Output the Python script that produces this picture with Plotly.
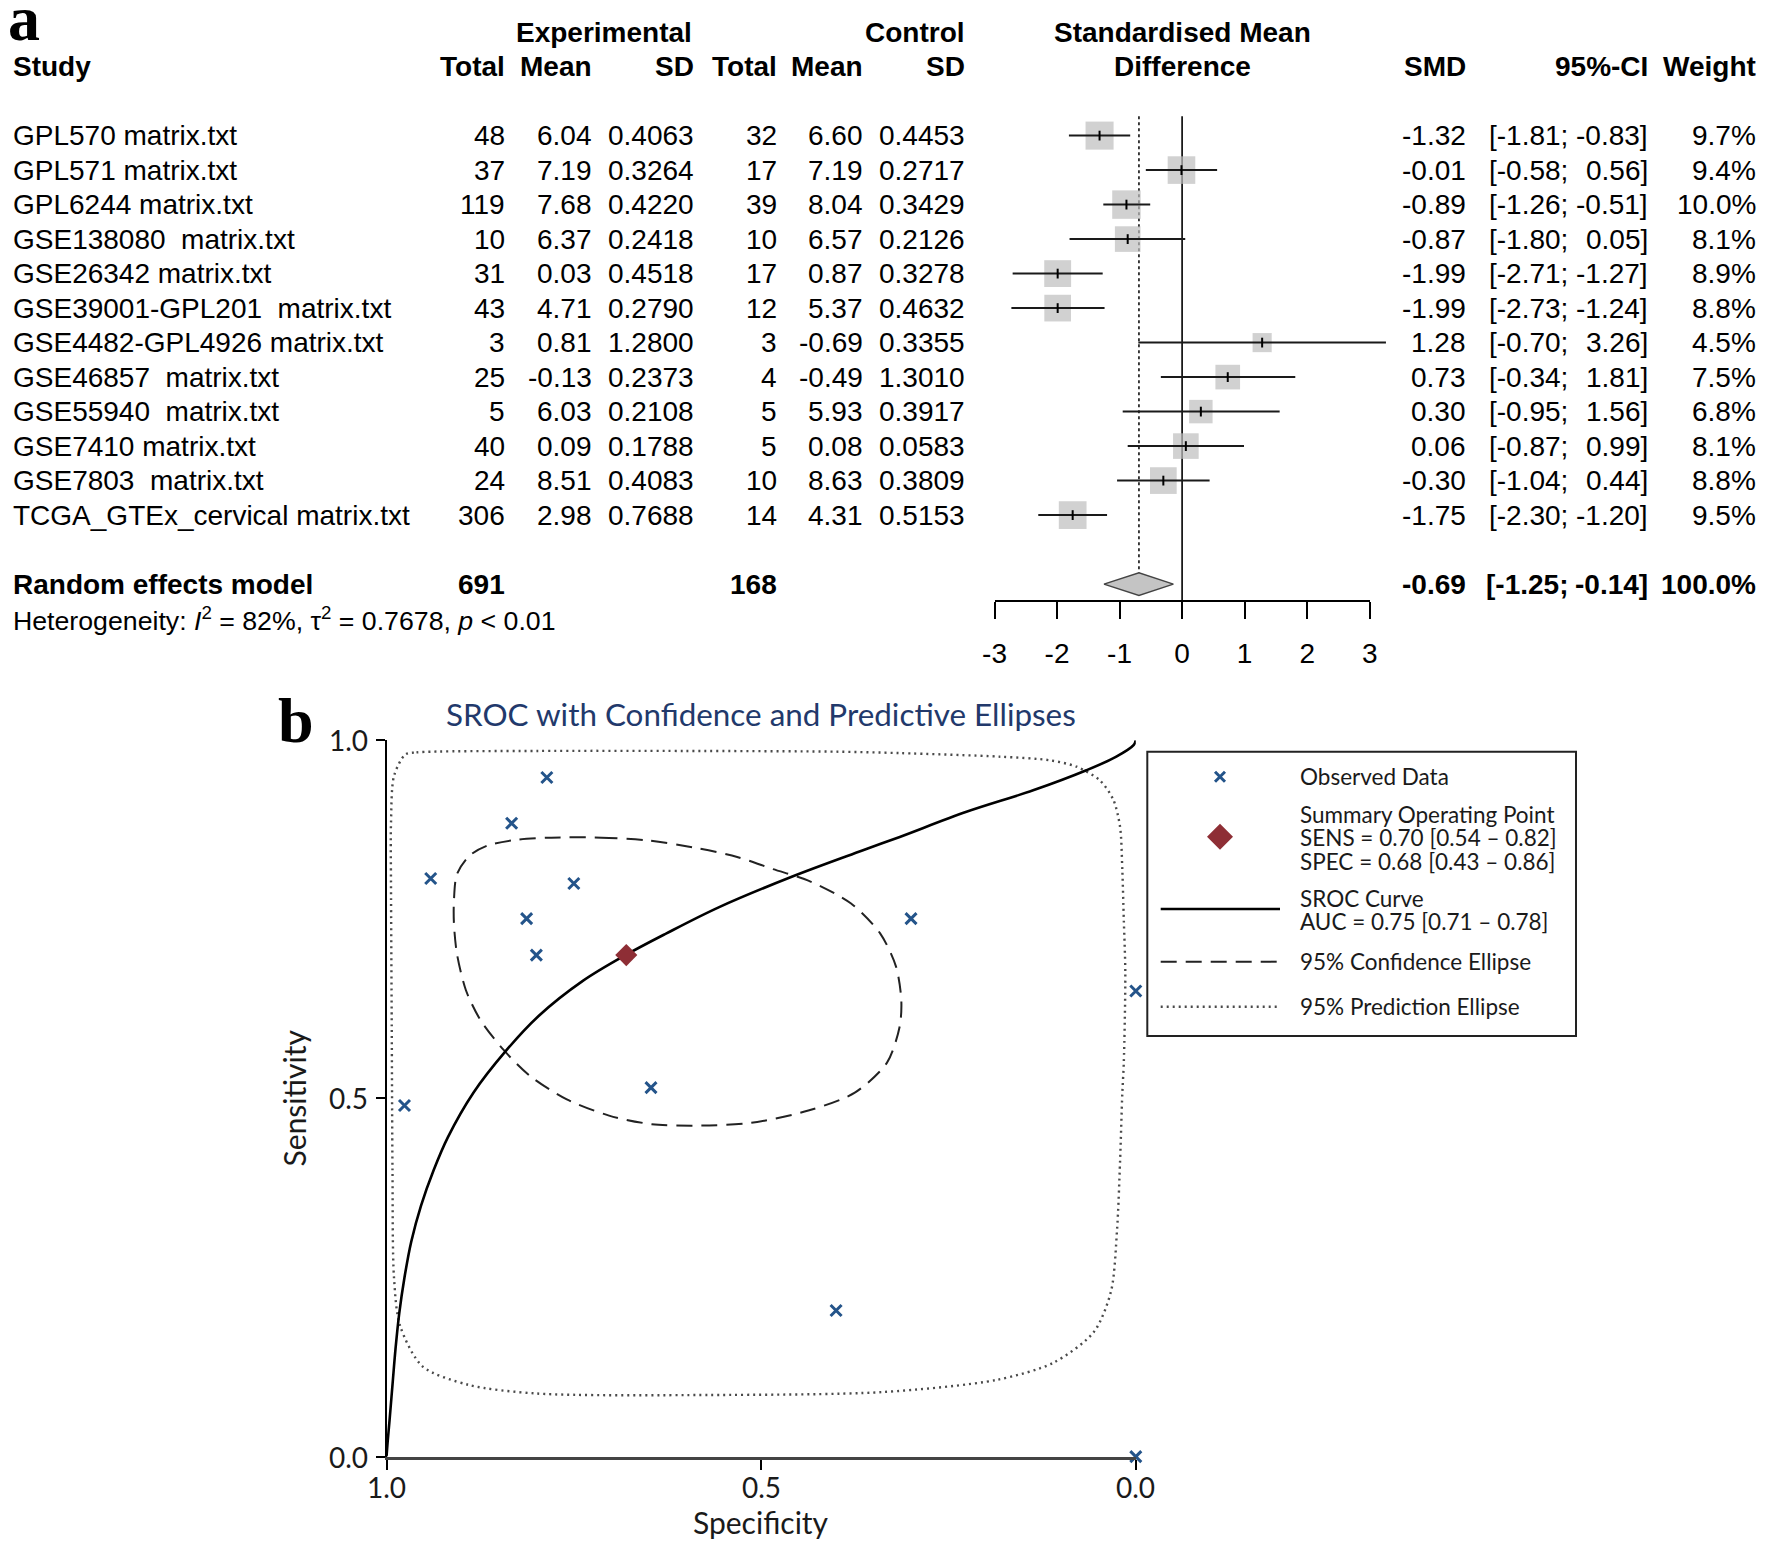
import math
import plotly.graph_objects as go

W, H = 1772, 1550

# ---------------- Panel a data (forest plot) ----------------
studies = ["GPL570 matrix.txt", "GPL571 matrix.txt", "GPL6244 matrix.txt",
           "GSE138080  matrix.txt", "GSE26342 matrix.txt", "GSE39001-GPL201  matrix.txt",
           "GSE4482-GPL4926 matrix.txt", "GSE46857  matrix.txt", "GSE55940  matrix.txt",
           "GSE7410 matrix.txt", "GSE7803  matrix.txt", "TCGA_GTEx_cervical matrix.txt"]
exp_total = [48, 37, 119, 10, 31, 43, 3, 25, 5, 40, 24, 306]
exp_mean = [6.04, 7.19, 7.68, 6.37, 0.03, 4.71, 0.81, -0.13, 6.03, 0.09, 8.51, 2.98]
exp_sd = [0.4063, 0.3264, 0.4220, 0.2418, 0.4518, 0.2790, 1.2800, 0.2373, 0.2108, 0.1788, 0.4083, 0.7688]
ctl_total = [32, 17, 39, 10, 17, 12, 3, 4, 5, 5, 10, 14]
ctl_mean = [6.60, 7.19, 8.04, 6.57, 0.87, 5.37, -0.69, -0.49, 5.93, 0.08, 8.63, 4.31]
ctl_sd = [0.4453, 0.2717, 0.3429, 0.2126, 0.3278, 0.4632, 0.3355, 1.3010, 0.3917, 0.0583, 0.3809, 0.5153]
smd = [-1.32, -0.01, -0.89, -0.87, -1.99, -1.99, 1.28, 0.73, 0.30, 0.06, -0.30, -1.75]
ci_lo = [-1.81, -0.58, -1.26, -1.80, -2.71, -2.73, -0.70, -0.34, -0.95, -0.87, -1.04, -2.30]
ci_hi = [-0.83, 0.56, -0.51, 0.05, -1.27, -1.24, 3.26, 1.81, 1.56, 0.99, 0.44, -1.20]
weight = [9.7, 9.4, 10.0, 8.1, 8.9, 8.8, 4.5, 7.5, 6.8, 8.1, 8.8, 9.5]

pooled_total_e = 691
pooled_total_c = 168
pooled_smd = -0.69
pooled_lo = -1.25
pooled_hi = -0.14
pooled_weight = 100.0
het_i2 = 82
het_tau2 = 0.7678
het_p = "0.01"
forest_ticks = [-3, -2, -1, 0, 1, 2, 3]

# ---------------- Panel b data (SROC) ----------------
obs_spec = [0.786, 0.833, 0.941, 0.750, 0.813, 0.800, 0.300, 0.000, 0.647, 0.976, 0.400, 0.000]
obs_sens = [0.948, 0.884, 0.807, 0.800, 0.751, 0.700, 0.751, 0.650, 0.515, 0.490, 0.204, 0.000]
summary_sens, summary_sens_ci = 0.70, (0.54, 0.82)
summary_spec, summary_spec_ci = 0.68, (0.43, 0.86)
auc, auc_ci = 0.75, (0.71, 0.78)
curve_spec = [1.000, 0.9985, 0.996, 0.992, 0.988, 0.983, 0.976, 0.967, 0.954, 0.937, 0.918,
              0.884, 0.841, 0.797, 0.738, 0.681, 0.627, 0.556, 0.460, 0.365, 0.315, 0.226,
              0.137, 0.066, 0.026, 0.003, 0.000]
curve_sens = [0.000, 0.020, 0.050, 0.100, 0.150, 0.200, 0.250, 0.300, 0.350, 0.400, 0.446,
              0.508, 0.566, 0.615, 0.664, 0.700, 0.730, 0.767, 0.809, 0.846, 0.865, 0.900,
              0.930, 0.958, 0.977, 0.993, 1.000]
conf_spec = [0.780, 0.713, 0.651, 0.589, 0.532, 0.484, 0.437, 0.380, 0.341, 0.320, 0.313, 0.315,
             0.332, 0.375, 0.437, 0.513, 0.580, 0.646, 0.703, 0.760, 0.808, 0.844, 0.875, 0.894,
             0.906, 0.910, 0.910, 0.906, 0.889, 0.865, 0.827, 0.780]
conf_sens = [0.864, 0.864, 0.860, 0.850, 0.837, 0.820, 0.804, 0.772, 0.730, 0.684, 0.638, 0.601,
             0.550, 0.508, 0.483, 0.466, 0.462, 0.464, 0.476, 0.499, 0.531, 0.568, 0.610, 0.651,
             0.702, 0.744, 0.776, 0.813, 0.839, 0.853, 0.861, 0.864]
pred_spec = [0.975, 0.960, 0.800, 0.600, 0.400, 0.315, 0.181, 0.115, 0.079, 0.048, 0.030, 0.021,
             0.018, 0.016, 0.014, 0.016, 0.018, 0.021, 0.025, 0.033, 0.056, 0.110, 0.186, 0.339,
             0.569, 0.799, 0.890, 0.952, 0.982, 0.990, 0.992, 0.993, 0.994, 0.994, 0.990, 0.975]
pred_sens = [0.980, 0.983, 0.985, 0.985, 0.984, 0.982, 0.977, 0.972, 0.963, 0.944, 0.917, 0.879,
             0.819, 0.749, 0.675, 0.550, 0.507, 0.412, 0.317, 0.231, 0.174, 0.131, 0.107, 0.090,
             0.086, 0.088, 0.100, 0.126, 0.183, 0.250, 0.400, 0.600, 0.800, 0.884, 0.950, 0.980]
sroc_ticks = [0.0, 0.5, 1.0]

# ---------------- layout constants (pixels) ----------------
ARIAL = "Liberation Sans, Arial, sans-serif"
MYR = "Lato, Open Sans, sans-serif"
SERIF = "Liberation Serif, Times New Roman, serif"
ROW0, ROWH = 101.1, 34.5          # pixel y of row 0, pixel per row
XZ, XU = 1182.1, 62.53            # pixel x of SMD 0, pixel per SMD unit
AX_Y = 601.0                      # forest axis line
BX0, BX1 = 386.5, 1135.8          # SROC spec 1 / spec 0
BY1, BY0 = 740.2, 1456.6          # SROC sens 1 / sens 0
LG = (1147.3, 1576.0, 751.7, 1036.0)
APAD = 3.0                        # annotation inner padding compensation

def fx(p):
    return p / W

def fy(p):
    return 1 - p / H

fig = go.Figure()
annotations = []
shapes = []

def txt(text, xpx, row, anchor="right", bold=False, size=28):
    if bold:
        text = "<b>" + text + "</b>"
    if anchor == "right":
        xpx += APAD
    elif anchor == "left":
        xpx -= APAD
    annotations.append(dict(text=text, x=fx(xpx), xref="paper", y=row, yref="y",
                            xanchor=anchor, yanchor="middle", showarrow=False,
                            font=dict(family=ARIAL, size=size, color="black")))

rows = list(range(1, len(studies) + 1))
RE_ROW = len(studies) + 2
HET_ROW = RE_ROW + 1

# headers
txt("Experimental", 603.5, -2, anchor="center", bold=True)
txt("Control", 964, -2, bold=True)
txt("Standardised Mean", XZ, -2, anchor="center", bold=True)
txt("Difference", XZ, -1, anchor="center", bold=True)
txt("Study", 13.6, -1, anchor="left", bold=True)
COLS = [504, 591, 693, 776, 862, 964]
for head, xp in zip(["Total", "Mean", "SD", "Total", "Mean", "SD"], COLS):
    txt(head, xp, -1, bold=True)
txt("SMD", 1464.6, -1, bold=True)
txt("95%-CI", 1646.6, -1, bold=True)
txt("Weight", 1755, -1, bold=True)

for i, r in enumerate(rows):
    txt(studies[i].replace("  ", "\u00a0\u00a0"), 13.6, r, anchor="left")
    txt(str(exp_total[i]), COLS[0], r)
    txt(f"{exp_mean[i]:.2f}", COLS[1], r)
    txt(f"{exp_sd[i]:.4f}", COLS[2], r)
    txt(str(ctl_total[i]), COLS[3], r)
    txt(f"{ctl_mean[i]:.2f}", COLS[4], r)
    txt(f"{ctl_sd[i]:.4f}", COLS[5], r)
    txt(f"{smd[i]:.2f}", 1464.6, r)
    txt(f"[{ci_lo[i]:.2f};", 1567, r)
    txt(f"{ci_hi[i]:.2f}]", 1646.6, r)
    txt(f"{weight[i]:.1f}%", 1755, r)

txt("Random effects model", 13.6, RE_ROW, anchor="left", bold=True)
txt(str(pooled_total_e), COLS[0], RE_ROW, bold=True)
txt(str(pooled_total_c), COLS[3], RE_ROW, bold=True)
txt(f"{pooled_smd:.2f}", 1464.6, RE_ROW, bold=True)
txt(f"[{pooled_lo:.2f};", 1567, RE_ROW, bold=True)
txt(f"{pooled_hi:.2f}]", 1646.6, RE_ROW, bold=True)
txt(f"{pooled_weight:.1f}%", 1755, RE_ROW, bold=True)
txt(f"Heterogeneity: <i>I</i><sup>2</sup> = {het_i2}%, \u03c4<sup>2</sup> = {het_tau2:.4f}, <i>p</i> &lt; {het_p}",
    13.6, HET_ROW, anchor="left", size=26.7)

# forest marks
fig.add_trace(go.Scatter(
    x=smd, y=rows, mode="markers", xaxis="x", yaxis="y", hoverinfo="skip",
    marker=dict(symbol="square", size=[9.0 * math.sqrt(w) for w in weight],
                color="#BEBEBE", line=dict(width=0)), showlegend=False))
ci_x, ci_y = [], []
for lo, hi, r in zip(ci_lo, ci_hi, rows):
    ci_x += [lo, hi, None]
    ci_y += [r, r, None]
fig.add_trace(go.Scatter(x=ci_x, y=ci_y, mode="lines", xaxis="x", yaxis="y",
                         line=dict(color="#1a1a1a", width=2), hoverinfo="skip", showlegend=False))
fig.add_trace(go.Scatter(x=smd, y=rows, mode="markers", xaxis="x", yaxis="y",
                         marker=dict(symbol="line-ns", size=7, line=dict(width=2, color="black")),
                         hoverinfo="skip", showlegend=False))
DH = 0.33
fig.add_trace(go.Scatter(
    x=[pooled_lo, pooled_smd, pooled_hi, pooled_smd, pooled_lo],
    y=[RE_ROW, RE_ROW - DH, RE_ROW, RE_ROW + DH, RE_ROW],
    mode="lines", fill="toself", fillcolor="#C4C4C4", xaxis="x", yaxis="y",
    line=dict(color="#444444", width=1.5), hoverinfo="skip", showlegend=False))
TOP = 0.44
shapes.append(dict(type="line", xref="x", yref="y", x0=0, x1=0, y0=TOP, y1=RE_ROW + 0.5,
                   line=dict(color="black", width=1.6), layer="below"))
shapes.append(dict(type="line", xref="x", yref="y", x0=pooled_smd, x1=pooled_smd,
                   y0=TOP, y1=RE_ROW - DH, line=dict(color="black", width=1.5, dash="dot"),
                   layer="below"))
# invisible trace to carry the forest axis
fig.add_trace(go.Scatter(x=[forest_ticks[0], forest_ticks[-1]], y=[RE_ROW, RE_ROW],
                         xaxis="x3", yaxis="y", mode="markers", marker=dict(opacity=0),
                         hoverinfo="skip", showlegend=False))

# ---------------- Panel b ----------------
BLUE = "#24548A"
RED = "#8E2E35"
PRED_LINE = dict(color="#4a4a4a", width=2.4, dash="2px,4px")
CONF_LINE = dict(color="#222222", width=2, dash="16px,9px")
fig.add_trace(go.Scatter(x=pred_spec, y=pred_sens, mode="lines", xaxis="x2", yaxis="y2",
                         line=dict(**PRED_LINE, shape="spline", smoothing=0.8),
                         hoverinfo="skip", showlegend=False))
fig.add_trace(go.Scatter(x=conf_spec, y=conf_sens, mode="lines", xaxis="x2", yaxis="y2",
                         line=dict(**CONF_LINE, shape="spline", smoothing=0.8),
                         hoverinfo="skip", showlegend=False))
fig.add_trace(go.Scatter(x=curve_spec, y=curve_sens, mode="lines", xaxis="x2", yaxis="y2",
                         line=dict(color="black", width=2.6, shape="spline", smoothing=1.0),
                         hoverinfo="skip", showlegend=False))
fig.add_trace(go.Scatter(x=obs_spec, y=obs_sens, mode="markers", xaxis="x2", yaxis="y2",
                         cliponaxis=False,
                         marker=dict(symbol="x-thin", size=11, line=dict(width=3, color=BLUE)),
                         hoverinfo="skip", showlegend=False))
fig.add_trace(go.Scatter(x=[summary_spec], y=[summary_sens], mode="markers", xaxis="x2", yaxis="y2",
                         marker=dict(symbol="diamond", size=17, color=RED),
                         hoverinfo="skip", showlegend=False))

# tick labels of panel b (placed at the axis tick values)
for t in sroc_ticks:
    annotations.append(dict(text=f"{t:.1f}", x=t, xref="x2", y=fy(BY0 + 30.5), yref="paper",
                            xanchor="center", yanchor="middle", showarrow=False,
                            font=dict(family=MYR, size=28, color="#1a1a1a")))
    annotations.append(dict(text=f"{t:.1f}", x=fx(BX0 - 17), xref="paper", y=t, yref="y2",
                            xanchor="right", yanchor="middle", showarrow=False,
                            font=dict(family=MYR, size=28, color="#1a1a1a")))

# legend (drawn in its own pixel-space axes)
lx0, lx1, ly0, ly1 = LG
fig.add_trace(go.Scatter(x=[1220], y=[776.7], mode="markers", xaxis="x4", yaxis="y4",
                         marker=dict(symbol="x-thin", size=10, line=dict(width=3, color=BLUE)),
                         hoverinfo="skip", showlegend=False))
fig.add_trace(go.Scatter(x=[1220], y=[836.7], mode="markers", xaxis="x4", yaxis="y4",
                         marker=dict(symbol="diamond", size=20, color=RED),
                         hoverinfo="skip", showlegend=False))
fig.add_trace(go.Scatter(x=[1160.7, 1280], y=[909, 909], mode="lines", xaxis="x4", yaxis="y4",
                         line=dict(color="black", width=2.6), hoverinfo="skip", showlegend=False))
fig.add_trace(go.Scatter(x=[1160.7, 1280], y=[961.7, 961.7], mode="lines", xaxis="x4", yaxis="y4",
                         line=CONF_LINE, hoverinfo="skip", showlegend=False))
fig.add_trace(go.Scatter(x=[1160.7, 1280], y=[1006.7, 1006.7], mode="lines", xaxis="x4", yaxis="y4",
                         line=PRED_LINE, hoverinfo="skip", showlegend=False))
shapes.append(dict(type="rect", xref="paper", yref="paper", x0=fx(lx0), x1=fx(lx1),
                   y0=fy(ly1), y1=fy(ly0), line=dict(color="#222222", width=2)))

def ltxt(text, ypx):
    annotations.append(dict(text=text, x=1300 - 2, xref="x4", y=ypx, yref="y4", xanchor="left",
                            yanchor="middle", showarrow=False,
                            font=dict(family=MYR, size=22.5, color="#1a1a1a")))

ltxt("Observed Data", 776.7)
ltxt("Summary Operating Point", 814)
ltxt(f"SENS = {summary_sens:.2f} [{summary_sens_ci[0]:.2f} \u2013 {summary_sens_ci[1]:.2f}]", 837.8)
ltxt(f"SPEC = {summary_spec:.2f} [{summary_spec_ci[0]:.2f} \u2013 {summary_spec_ci[1]:.2f}]", 861.7)
ltxt("SROC Curve", 898.3)
ltxt(f"AUC = {auc:.2f} [{auc_ci[0]:.2f} \u2013 {auc_ci[1]:.2f}]", 921.7)
ltxt("95% Confidence Ellipse", 961.7)
ltxt("95% Prediction Ellipse", 1006.7)

# titles / labels for panel b
annotations.append(dict(text="SROC with Confidence and Predictive Ellipses", x=fx((BX0 + BX1) / 2),
                        xref="paper", y=fy(714), yref="paper", xanchor="center", yanchor="middle",
                        showarrow=False, font=dict(family=MYR, size=31.4, color="#22396B")))
annotations.append(dict(text="Specificity", x=fx((BX0 + BX1) / 2), xref="paper", y=fy(1522),
                        yref="paper", xanchor="center", yanchor="middle", showarrow=False,
                        font=dict(family=MYR, size=30, color="#1a1a1a")))
annotations.append(dict(text="Sensitivity", x=fx(294), xref="paper", y=fy((BY0 + BY1) / 2),
                        yref="paper", xanchor="center", yanchor="middle", showarrow=False,
                        textangle=-90, font=dict(family=MYR, size=30, color="#1a1a1a")))
# panel letters
annotations.append(dict(text="<b>a</b>", x=fx(24), xref="paper", y=fy(19), yref="paper",
                        xanchor="center", yanchor="middle", showarrow=False,
                        font=dict(family=SERIF, size=64, color="black")))
annotations.append(dict(text="<b>b</b>", x=fx(296), xref="paper", y=fy(720), yref="paper",
                        xanchor="center", yanchor="middle", showarrow=False,
                        font=dict(family=SERIF, size=64, color="black")))

fig.update_layout(
    width=W, height=H, autosize=False,
    margin=dict(l=0, r=0, t=0, b=0, pad=0, autoexpand=False),
    paper_bgcolor="white", plot_bgcolor="rgba(0,0,0,0)",
    showlegend=False,
    xaxis=dict(domain=[0, 1], range=[-XZ / XU, (W - XZ) / XU], visible=False, fixedrange=True),
    yaxis=dict(domain=[0, 1], range=[(H - ROW0) / ROWH, -ROW0 / ROWH], visible=False,
               fixedrange=True),
    xaxis3=dict(domain=[fx(XZ + forest_ticks[0] * XU), fx(XZ + forest_ticks[-1] * XU)],
                range=[forest_ticks[0], forest_ticks[-1]], anchor="free", position=fy(AX_Y),
                showline=True, linecolor="black", linewidth=1.6, ticks="outside", ticklen=17,
                tickwidth=1.6, tickcolor="black", tickvals=forest_ticks,
                ticktext=[str(t) for t in forest_ticks], showgrid=False, zeroline=False,
                ticklabelstandoff=11, tickfont=dict(family=ARIAL, size=28, color="black")),
    xaxis2=dict(domain=[fx(BX0), fx(BX1)], range=[1, 0], anchor="y2", showline=True,
                linecolor="#444444", linewidth=3, ticks="outside", ticklen=10, tickwidth=1.5,
                tickcolor="black", tickvals=sroc_ticks, showticklabels=False,
                showgrid=False, zeroline=False),
    yaxis2=dict(domain=[fy(BY0), fy(BY1)], range=[0, 1], anchor="x2", showline=True,
                linecolor="black", linewidth=1.5, ticks="outside", ticklen=9, tickwidth=1.5,
                tickcolor="black", tickvals=sroc_ticks, showticklabels=False,
                showgrid=False, zeroline=False),
    xaxis4=dict(domain=[fx(lx0), fx(lx1)], range=[lx0, lx1], visible=False, anchor="y4"),
    yaxis4=dict(domain=[fy(ly1), fy(ly0)], range=[ly1, ly0], visible=False, anchor="x4"),
    annotations=annotations,
    shapes=shapes,
)

fig.write_html("out.html")
